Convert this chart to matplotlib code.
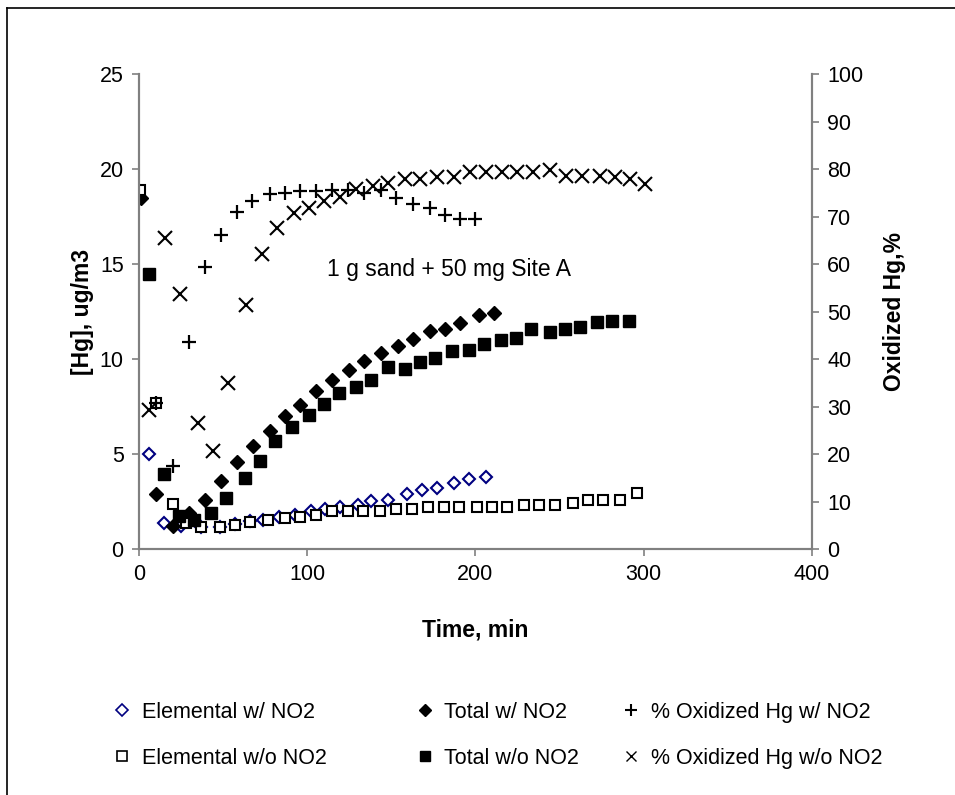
import matplotlib.pyplot as plt
from matplotlib.lines import Line2D

plt.rcParams['font.family'] = ['Liberation Sans', 'DejaVu Sans']

# Elemental w/ NO2
t_el_w = [6, 15, 25, 37, 48, 57, 66, 74, 83, 93, 102, 110.5, 119.5, 130, 138, 148, 159, 168, 177, 187, 196, 206]
el_w = [5.0, 1.38, 1.2, 1.17, 1.17, 1.3, 1.45, 1.53, 1.7, 1.79, 1.98, 2.09, 2.23, 2.32, 2.54, 2.58, 2.88, 3.1, 3.23, 3.46, 3.67, 3.8]

# Total w/ NO2
t_tot_w = [1, 10, 20, 30, 39, 49, 58, 68, 78, 87, 96, 105, 115, 125, 134, 144, 154, 163, 173, 182, 191, 202, 211]
tot_w = [18.5, 2.9, 1.2, 1.9, 2.6, 3.6, 4.6, 5.4, 6.2, 7.0, 7.6, 8.3, 8.9, 9.4, 9.9, 10.3, 10.7, 11.05, 11.5, 11.6, 11.9, 12.3, 12.4]

# Elemental w/o NO2
t_el_wo = [0.5, 10, 20, 28, 37, 48, 57, 66, 76.5, 86.5, 96, 105, 115, 124, 133, 143, 153, 162, 172, 181,
           190, 201, 210, 219, 229, 238, 247, 258, 267, 276, 286, 296]
el_wo = [18.9, 7.67, 2.35, 1.35, 1.17, 1.17, 1.28, 1.4, 1.53, 1.62, 1.7, 1.79, 2.02, 2.02, 2.02, 2.02, 2.09, 2.12, 2.19, 2.19,
         2.19, 2.19, 2.19, 2.19, 2.32, 2.32, 2.32, 2.44, 2.58, 2.58, 2.58, 2.93]

# Total w/o NO2
t_tot_wo = [6, 15, 24, 33, 43, 52, 63, 72, 81, 91, 101, 110, 119, 129, 138, 148, 158, 167, 176, 186,
            196, 205, 215, 224, 233, 244, 253, 262, 272, 281, 291]
tot_wo = [14.45, 3.97, 1.75, 1.55, 1.88, 2.67, 3.72, 4.63, 5.68, 6.4, 7.05, 7.62, 8.2, 8.54, 8.9, 9.6, 9.49, 9.86, 10.07, 10.4,
          10.5, 10.77, 11.0, 11.1, 11.56, 11.44, 11.56, 11.67, 11.93, 12.02, 12.02]

# % Oxidized Hg w/ NO2
t_ox_w = [10, 20, 30, 39, 49, 58, 67, 78, 87, 96, 105, 115, 124, 134, 144, 153, 163, 173, 182, 191, 200]
ox_w = [30.7, 17.5, 43.6, 59.4, 66.2, 70.9, 73.3, 74.7, 75.0, 75.4, 75.4, 75.6, 75.6, 75.0, 75.6, 74.0, 72.6, 71.7, 70.3, 69.4, 69.4]

# % Oxidized Hg w/o NO2
t_ox_wo = [6, 15.5, 24.5, 35, 44, 53, 63.5, 73, 82, 92, 101, 110, 119.5, 129, 139, 148, 158, 167, 177, 187,
           197, 206, 216, 224.5, 234, 244.5, 254, 263, 274, 283, 292, 301]
ox_wo = [29.3, 65.4, 53.7, 26.6, 20.6, 34.9, 51.4, 62.1, 67.6, 70.8, 71.7, 73.3, 74.2, 75.7, 76.4, 77.0, 78.0, 77.8, 78.3, 78.4,
         79.4, 79.4, 79.4, 79.4, 79.4, 79.7, 78.5, 78.5, 78.5, 78.4, 77.8, 76.8]

fig = plt.figure(figsize=(9.55, 7.95), dpi=100)
ax = fig.add_axes([0.1455, 0.3094, 0.7048, 0.5975])
ax2 = ax.twinx()

navy = '#000080'
ax.plot(t_el_w, el_w, 'D', ms=6.5, mfc='white', mec=navy, mew=1.5, linestyle='none')
ax.plot(t_tot_w, tot_w, 'D', ms=7.5, color='black', linestyle='none')
ax.plot(t_el_wo, el_wo, 's', ms=7.5, mfc='white', mec='black', mew=1.5, linestyle='none')
ax.plot(t_tot_wo, tot_wo, 's', ms=8, color='black', linestyle='none')
ax2.plot(t_ox_w, ox_w, '+', ms=10.5, color='black', mew=1.6, linestyle='none')
ax2.plot(t_ox_wo, ox_wo, 'x', ms=9.5, color='black', mew=1.5, linestyle='none')

ax.set_xlim(0, 400)
ax.set_ylim(0, 25)
ax2.set_ylim(0, 100)
ax.set_xticks([0, 100, 200, 300, 400])
ax.set_yticks([0, 5, 10, 15, 20, 25])
ax2.set_yticks(range(0, 101, 10))

for a in (ax, ax2):
    a.spines['top'].set_visible(False)
    for s in ('left', 'right', 'bottom'):
        a.spines[s].set_color('#808080')
        a.spines[s].set_linewidth(1.5)
    a.tick_params(direction='out', length=5, width=1.2, color='#808080', labelsize=15.5, pad=6)

ax.set_xlabel('Time, min', fontsize=16.5, fontweight='bold', labelpad=24)
ax.set_ylabel('[Hg], ug/m3', fontsize=16.5, fontweight='bold', labelpad=4)
ax2.set_ylabel('Oxidized Hg,%', fontsize=16.5, fontweight='bold', labelpad=14)

ax.text(184, 14.7, '1 g sand + 50 mg Site A', fontsize=16.5, ha='center', va='center')

# legend in three columns under the plot
col1 = [Line2D([], [], marker='D', ms=6, mfc='white', mec=navy, mew=1.2, linestyle='none'),
        Line2D([], [], marker='s', ms=7, mfc='white', mec='black', mew=1.2, linestyle='none')]
col2 = [Line2D([], [], marker='D', ms=6.5, color='black', linestyle='none'),
        Line2D([], [], marker='s', ms=7.5, color='black', linestyle='none')]
col3 = [Line2D([], [], marker='+', ms=9, color='black', mew=1.5, linestyle='none'),
        Line2D([], [], marker='x', ms=7, color='black', mew=1, linestyle='none')]
names = [['Elemental w/ NO2', 'Elemental w/o NO2'],
         ['Total w/ NO2', 'Total w/o NO2'],
         ['% Oxidized Hg w/ NO2', '% Oxidized Hg w/o NO2']]
xs = [0.119, 0.436, 0.652]
for h, n, x in zip([col1, col2, col3], names, xs):
    fig.legend(h, n, loc='upper left', bbox_to_anchor=(x, 0.117), bbox_transform=fig.transFigure,
               frameon=False, fontsize=15.5, handlelength=0.8, handletextpad=0.5, labelspacing=1.15,
               borderaxespad=0, borderpad=0)

# outer frame
fig.add_artist(Line2D([0.0073, 1.0], [0.990, 0.990], color='black', lw=1.2))
fig.add_artist(Line2D([0.0073, 0.0073], [0.0, 0.990], color='black', lw=1.2))

fig.savefig('out.png', dpi=100)
